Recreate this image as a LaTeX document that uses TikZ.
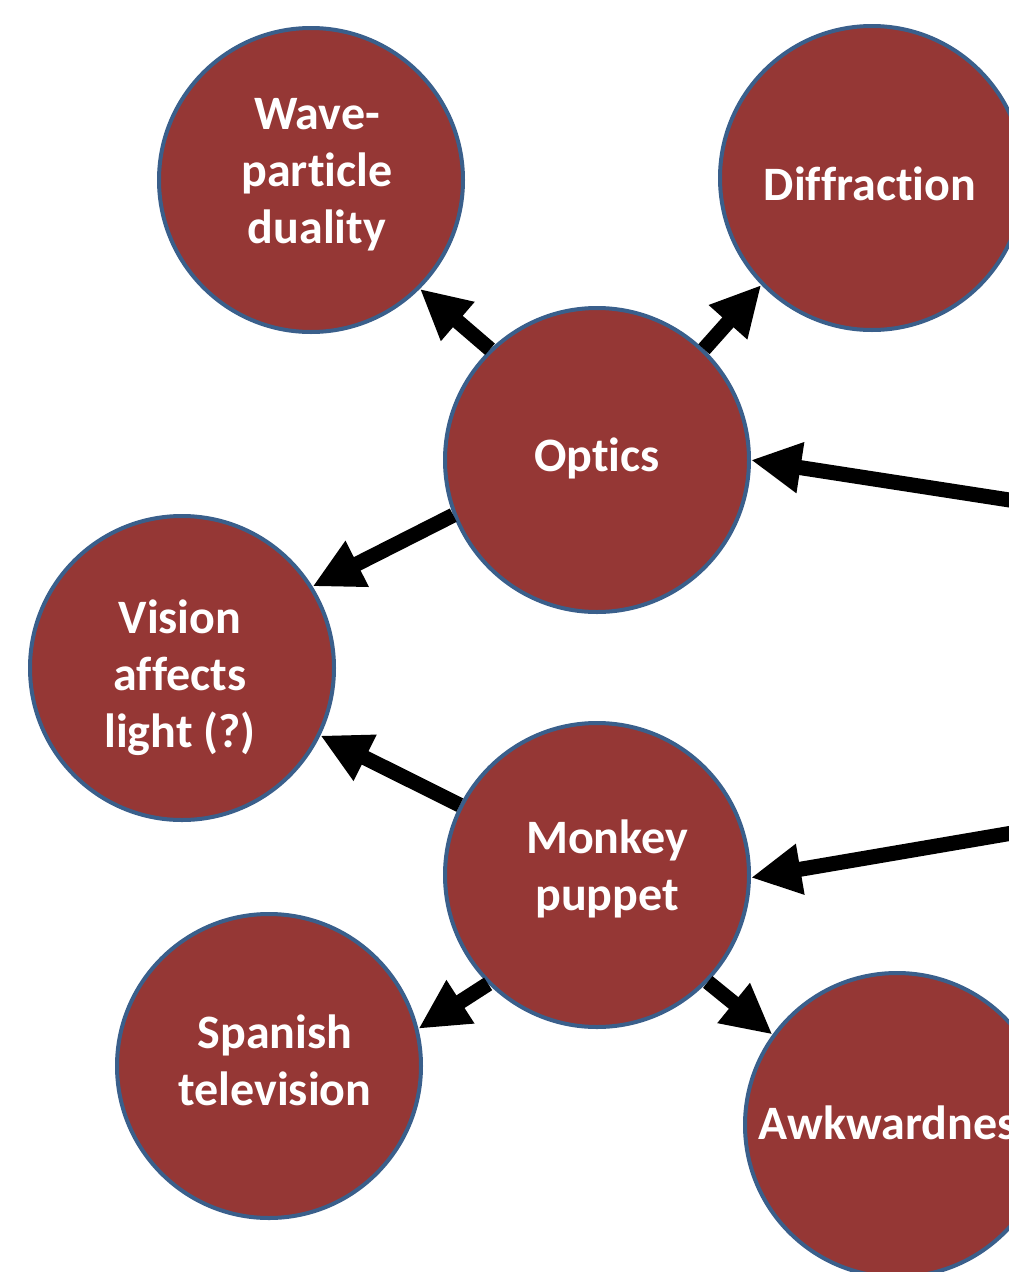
\documentclass[tikz,border=0pt]{standalone}
\usepackage{fontspec}
\setmainfont{Carlito}[Ligatures=NoCommon]
\usetikzlibrary{arrows.meta}
\definecolor{fillred}{HTML}{953735}
\definecolor{edgeblue}{HTML}{3A5F8B}
\begin{document}
\begin{tikzpicture}[x=1pt,y=-1pt,
  topic/.style={circle, fill=fillred, draw=edgeblue, line width=4pt,
    minimum size=304pt, inner sep=0pt},
  topictext/.style={text=white, inner sep=0pt,
    font=\bfseries\fontsize{48}{57}\selectfont, align=center},
  link/.style={line width=15pt, -{Triangle[length=50pt,width=48pt]}}]
\useasboundingbox (0,0) rectangle (1009,1272);

\node[topic] (wave) at (311,180) {};
\node[topic] (diff) at (872,178) {};
\node[topic] (optics) at (597,460) {};
\node[topic] (vision) at (182,668) {};
\node[topic] (monkey) at (597,875) {};
\node[topic] (spanish) at (269,1066) {};
\node[topic] (awk) at (897,1125) {};

\node[topictext] (waveT) at ([shift={(6,-5)}]wave.center) {Wave-\\particle\\duality};
\node[topictext] (diffT) at ([shift={(-2,6)}]diff.center) {Diffraction};
\node[topictext] (opticsT) at ([shift={(0,-2)}]optics.center) {Optics};
\node[topictext] (visionT) at ([shift={(-2,10)}]vision.center) {Vision\\affects\\light (?)};
\node[topictext] (monkeyT) at ([shift={(10,-6)}]monkey.center) {Monkey\\puppet};
\node[topictext] (spanishT) at ([shift={(6,-6)}]spanish.center) {Spanish\\television};
\node[topictext] (awkT) at ([shift={(0,-2)}]awk.center) {Awkwardness};

\coordinate (inA) at (1100,514);
\coordinate (inB) at (1100,818);

\draw[link] (optics.134.7) -- (wave.-45.3);
\draw[link] (optics.46) -- (diff.224.7);
\draw[link] (inA) -- (optics.0);
\draw[link] (optics.201) -- (vision.32);
\draw[link] (monkey.153.6) -- (vision.-26.6);
\draw[link] (inB) -- (monkey.-1);
\draw[link] (monkey.225.8) -- (spanish.14.8);
\draw[link] (monkey.-44.5) -- (awk.144.7);
\end{tikzpicture}
\end{document}
